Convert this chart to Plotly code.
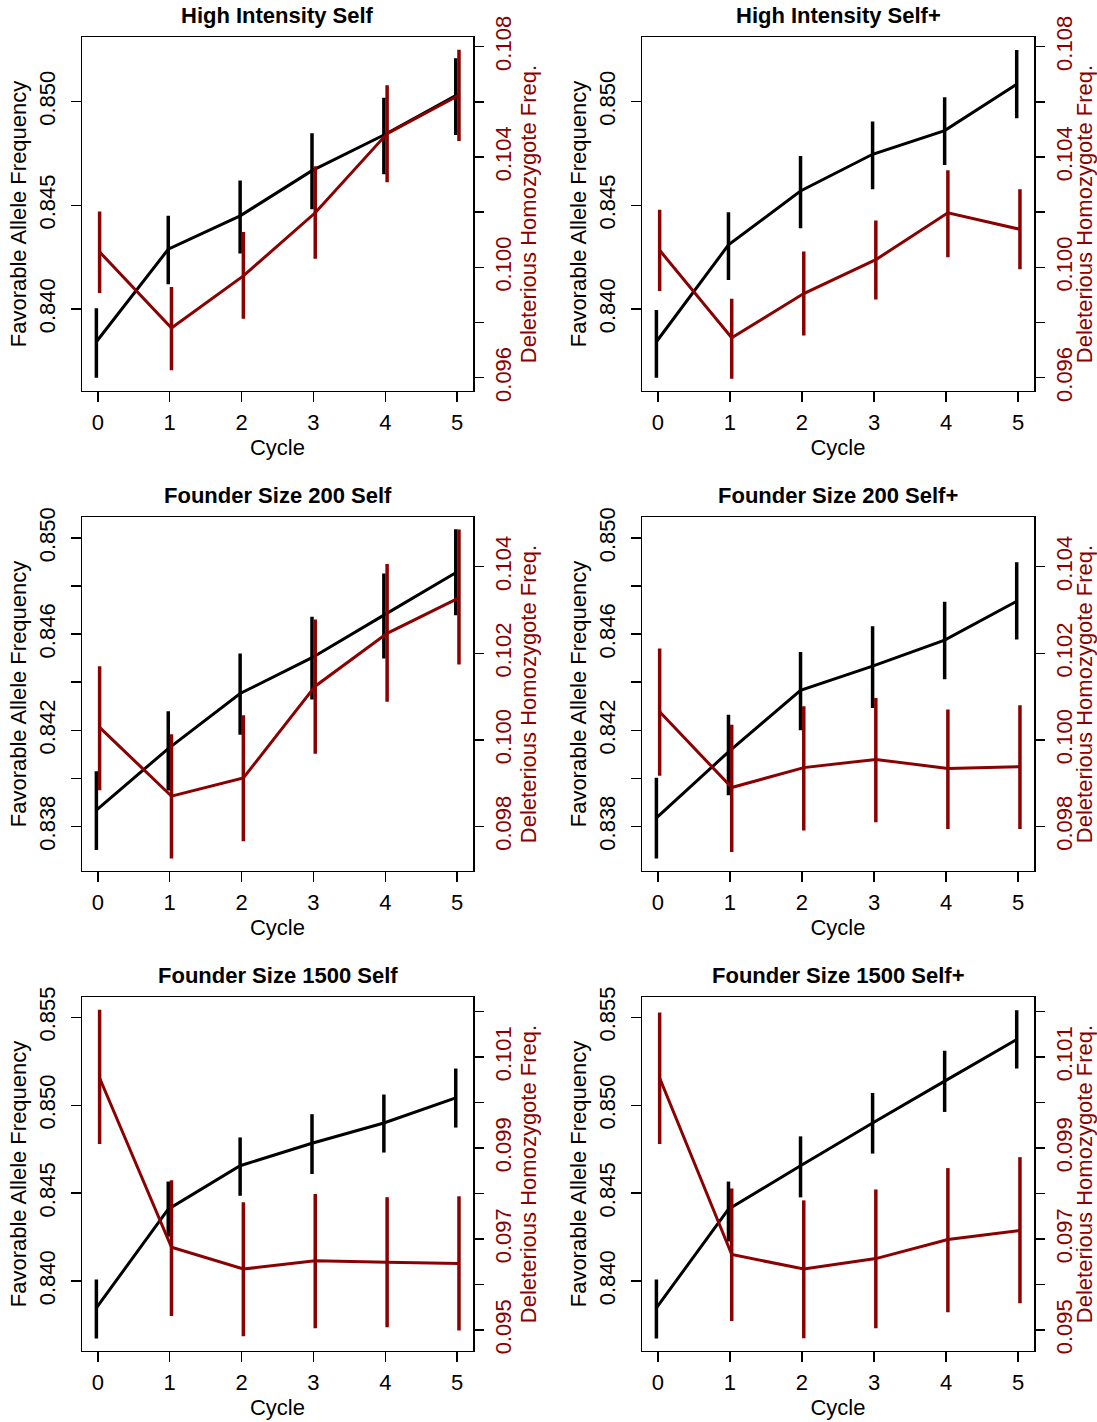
import plotly.graph_objects as go

# ---------------- data ----------------
cycles = [0, 1, 2, 3, 4, 5]
titles = ["High Intensity Self", "High Intensity Self+",
          "Founder Size 200 Self", "Founder Size 200 Self+",
          "Founder Size 1500 Self", "Founder Size 1500 Self+"]

# Favorable allele frequency / deleterious homozygote freq. (mean, lower, upper) per panel
p1_fav_mean = [0.83842, 0.84288, 0.84449, 0.84667, 0.84839, 0.85029]
p1_fav_lo = [0.83669, 0.84119, 0.84268, 0.84481, 0.84650, 0.84839]
p1_fav_hi = [0.84003, 0.84449, 0.84619, 0.84847, 0.85019, 0.85209]
p1_del_mean = [0.10056, 0.09780, 0.09969, 0.10198, 0.10485, 0.10624]
p1_del_lo = [0.09907, 0.09627, 0.09814, 0.10031, 0.10309, 0.10458]
p1_del_hi = [0.10203, 0.09929, 0.10128, 0.10367, 0.10660, 0.10789]

p2_fav_mean = [0.83842, 0.84309, 0.84569, 0.84746, 0.84860, 0.85084]
p2_fav_lo = [0.83669, 0.84140, 0.84389, 0.84577, 0.84694, 0.84920]
p2_fav_hi = [0.83995, 0.84466, 0.84738, 0.84904, 0.85021, 0.85249]
p2_del_mean = [0.10062, 0.09745, 0.09905, 0.10028, 0.10198, 0.10138]
p2_del_lo = [0.09914, 0.09596, 0.09753, 0.09884, 0.10037, 0.09993]
p2_del_hi = [0.10209, 0.09886, 0.10058, 0.10170, 0.10352, 0.10283]

p3_fav_mean = [0.83868, 0.84124, 0.84353, 0.84502, 0.84679, 0.84855]
p3_fav_lo = [0.83702, 0.83950, 0.84182, 0.84328, 0.84499, 0.84679]
p3_fav_hi = [0.84030, 0.84279, 0.84519, 0.84672, 0.84852, 0.85036]
p3_del_mean = [0.10029, 0.09870, 0.09912, 0.10124, 0.10246, 0.10328]
p3_del_lo = [0.09884, 0.09726, 0.09766, 0.09968, 0.10088, 0.10174]
p3_del_hi = [0.10170, 0.10013, 0.10057, 0.10278, 0.10406, 0.10486]

p4_fav_mean = [0.83836, 0.84110, 0.84366, 0.84467, 0.84575, 0.84737]
p4_fav_lo = [0.83667, 0.83930, 0.84200, 0.84293, 0.84412, 0.84578]
p4_fav_hi = [0.84003, 0.84265, 0.84526, 0.84633, 0.84735, 0.84899]
p4_del_mean = [0.10065, 0.09890, 0.09936, 0.09955, 0.09934, 0.09938]
p4_del_lo = [0.09917, 0.09741, 0.09791, 0.09810, 0.09794, 0.09794]
p4_del_hi = [0.10211, 0.10035, 0.10078, 0.10097, 0.10070, 0.10080]

p5_fav_mean = [0.83848, 0.84409, 0.84656, 0.84784, 0.84899, 0.85042]
p5_fav_lo = [0.83674, 0.84253, 0.84485, 0.84609, 0.84731, 0.84873]
p5_fav_hi = [0.84009, 0.84566, 0.84817, 0.84949, 0.85061, 0.85209]
p5_del_mean = [0.10054, 0.09682, 0.09634, 0.09652, 0.09649, 0.09646]
p5_del_lo = [0.09909, 0.09531, 0.09486, 0.09504, 0.09506, 0.09499]
p5_del_hi = [0.10204, 0.09829, 0.09781, 0.09799, 0.09792, 0.09794]

p6_fav_mean = [0.83848, 0.84409, 0.84656, 0.84899, 0.85137, 0.85374]
p6_fav_lo = [0.83674, 0.84225, 0.84476, 0.84725, 0.84962, 0.85209]
p6_fav_hi = [0.84009, 0.84566, 0.84823, 0.85070, 0.85310, 0.85541]
p6_del_mean = [0.10054, 0.09666, 0.09634, 0.09657, 0.09699, 0.09719]
p6_del_lo = [0.09909, 0.09520, 0.09482, 0.09504, 0.09539, 0.09559]
p6_del_hi = [0.10198, 0.09811, 0.09785, 0.09809, 0.09856, 0.09880]

# axis ranges and ticks per row
left_ranges = [[0.83606, 0.85310], [0.83616, 0.85086], [0.83604, 0.85614]]
right_ranges = [[0.09553, 0.10834], [0.09698, 0.10514], [0.094545, 0.102315]]
left_ticks = [[0.840, 0.845, 0.850],
              [0.838, 0.840, 0.842, 0.844, 0.846, 0.848, 0.850],
              [0.840, 0.845, 0.850, 0.855]]
left_labels = [["0.840", "0.845", "0.850"],
               ["0.838", "", "0.842", "", "0.846", "", "0.850"],
               ["0.840", "0.845", "0.850", "0.855"]]
right_ticks = [[0.096, 0.098, 0.100, 0.102, 0.104, 0.106, 0.108],
               [0.098, 0.100, 0.102, 0.104],
               [0.095, 0.096, 0.097, 0.098, 0.099, 0.100, 0.101, 0.102]]
right_labels = [["0.096", "", "0.100", "", "0.104", "", "0.108"],
                ["0.098", "0.100", "0.102", "0.104"],
                ["0.095", "", "0.097", "", "0.099", "", "0.101", ""]]

panels = [
    (p1_fav_mean, p1_fav_lo, p1_fav_hi, p1_del_mean, p1_del_lo, p1_del_hi),
    (p2_fav_mean, p2_fav_lo, p2_fav_hi, p2_del_mean, p2_del_lo, p2_del_hi),
    (p3_fav_mean, p3_fav_lo, p3_fav_hi, p3_del_mean, p3_del_lo, p3_del_hi),
    (p4_fav_mean, p4_fav_lo, p4_fav_hi, p4_del_mean, p4_del_lo, p4_del_hi),
    (p5_fav_mean, p5_fav_lo, p5_fav_hi, p5_del_mean, p5_del_lo, p5_del_hi),
    (p6_fav_mean, p6_fav_lo, p6_fav_hi, p6_del_mean, p6_del_lo, p6_del_hi),
]

# ---------------- layout geometry ----------------
W, H = 1097, 1422
FONT = "Liberation Sans, Arial, Helvetica, sans-serif"
FS = 22
RED = "#8B0000"
col_px = [(82, 473), (642, 1034)]
row_px = [(37.3, 390.7), (517.3, 870.7), (997.3, 1350.7)]
black_shift = -0.02
red_shift = 0.025


def fx(px):
    return px / W


def fy(py):
    return 1 - py / H


fig = go.Figure()
layout = dict(width=W, height=H, margin=dict(l=0, r=0, t=0, b=0),
              paper_bgcolor="white", plot_bgcolor="white",
              showlegend=False, font=dict(family=FONT, size=FS, color="black"))
annotations = []

for i, (fm, flo, fhi, dm, dlo, dhi) in enumerate(panels):
    r, c = divmod(i, 2)
    n = i + 1
    xa = "x" if n == 1 else f"x{n}"
    ya = "y" if n == 1 else f"y{n}"
    ya2 = f"y{n + 6}"
    xdom = [fx(col_px[c][0]), fx(col_px[c][1])]
    ydom = [fy(row_px[r][1]), fy(row_px[r][0])]

    fig.add_trace(go.Scatter(
        x=[cc + black_shift for cc in cycles], y=fm, xaxis=xa, yaxis=ya,
        mode="lines", line=dict(color="black", width=3),
        error_y=dict(type="data", symmetric=False,
                     array=[h - m for h, m in zip(fhi, fm)],
                     arrayminus=[m - l for m, l in zip(fm, flo)],
                     width=0, thickness=3.5, color="black"),
        hoverinfo="skip"))
    fig.add_trace(go.Scatter(
        x=[cc + red_shift for cc in cycles], y=dm, xaxis=xa, yaxis=ya2,
        mode="lines", line=dict(color=RED, width=3),
        error_y=dict(type="data", symmetric=False,
                     array=[h - m for h, m in zip(dhi, dm)],
                     arrayminus=[m - l for m, l in zip(dm, dlo)],
                     width=0, thickness=3.5, color=RED),
        hoverinfo="skip"))

    xkey = "xaxis" if n == 1 else f"xaxis{n}"
    ykey = "yaxis" if n == 1 else f"yaxis{n}"
    y2key = f"yaxis{n + 6}"
    layout[xkey] = dict(
        domain=xdom, anchor=ya, range=[-0.22, 5.22],
        tickvals=cycles, ticktext=[str(v) for v in cycles],
        ticks="outside", ticklen=10, tickwidth=1.5, tickcolor="black",
        showline=True, mirror=True, linecolor="black", linewidth=1.5,
        showgrid=False, zeroline=False, automargin=False,
        tickfont=dict(size=FS, color="black"), ticklabelstandoff=1,
        title=dict(text="Cycle", font=dict(size=FS, color="black"), standoff=6))
    layout[ykey] = dict(
        domain=ydom, anchor=xa, range=left_ranges[r],
        tickvals=left_ticks[r], ticktext=left_labels[r], tickangle=-90,
        ticks="outside", ticklen=10, tickwidth=1.5, tickcolor="black",
        showline=True, mirror=True, linecolor="black", linewidth=1.5,
        showgrid=False, zeroline=False, automargin=False,
        tickfont=dict(size=FS, color="black"), ticklabelstandoff=7,
        title=dict(text="Favorable Allele Frequency",
                   font=dict(size=FS, color="black"), standoff=2))
    layout[y2key] = dict(
        domain=ydom, anchor=xa, overlaying=ya, side="right",
        range=right_ranges[r],
        tickvals=right_ticks[r], ticktext=right_labels[r], tickangle=-90,
        ticks="outside", ticklen=10, tickwidth=1.5, tickcolor="black",
        showline=False, showgrid=False, zeroline=False, automargin=False,
        tickfont=dict(size=FS, color=RED), ticklabelstandoff=1,
        title=dict(text="Deleterious Homozygote Freq.",
                   font=dict(size=FS, color=RED), standoff=0))

    annotations.append(dict(
        text=f"<b>{titles[i]}</b>", xref="paper", yref="paper",
        x=(xdom[0] + xdom[1]) / 2, y=fy(row_px[r][0] - 21.5),
        xanchor="center", yanchor="middle", showarrow=False,
        font=dict(size=FS, color="black", family=FONT)))

layout["annotations"] = annotations
fig.update_layout(**layout)
fig.write_html(
    "out.html",
    config={"displayModeBar": False, "staticPlot": True},
    post_script="document.body.style.margin='0';"
                "document.body.style.overflow='hidden';")
